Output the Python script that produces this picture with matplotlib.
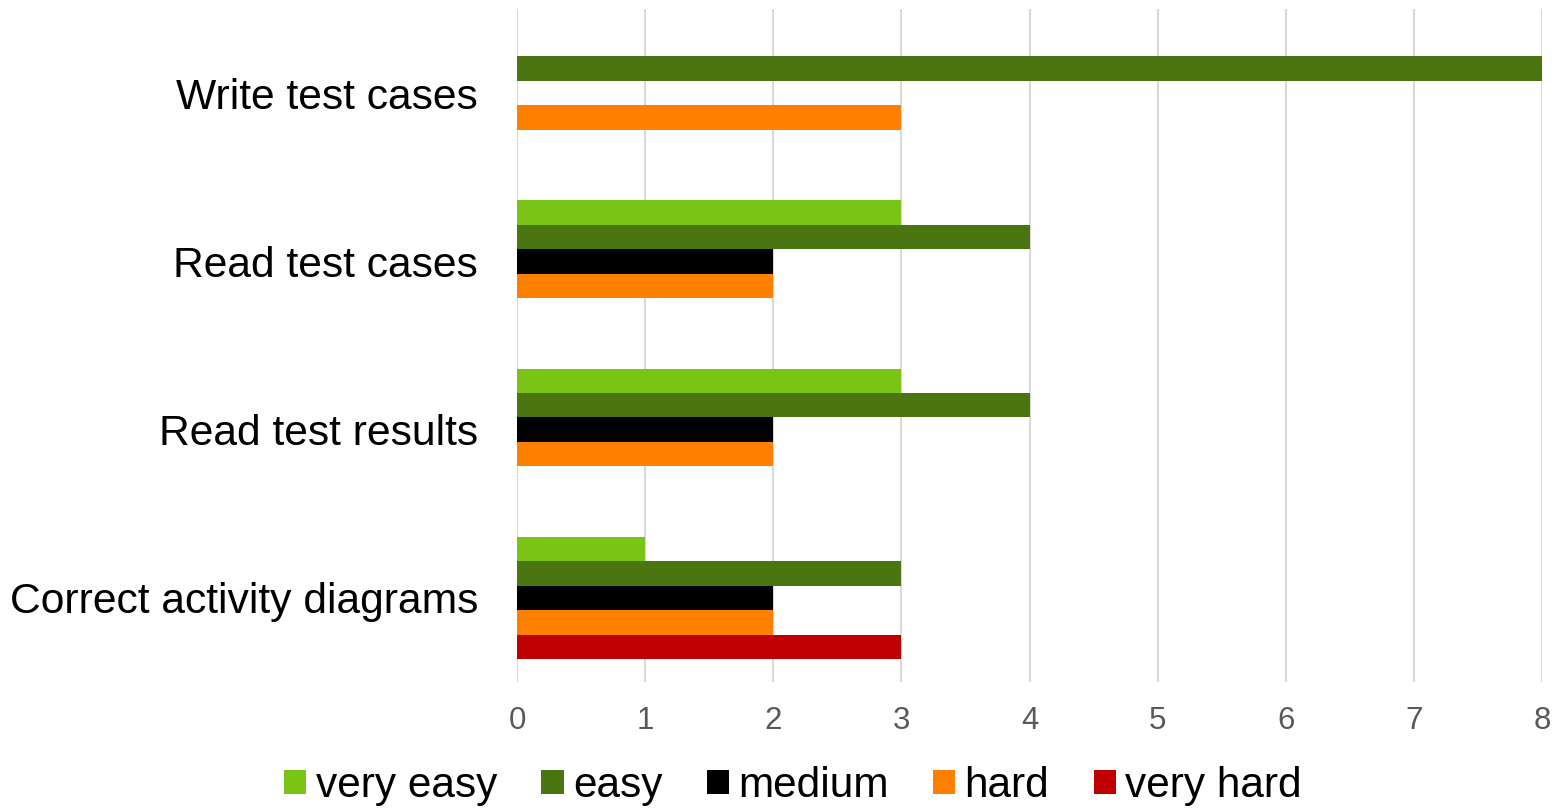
import matplotlib
matplotlib.use("Agg")
import matplotlib.pyplot as plt
import numpy as np

plt.rcParams['font.family'] = ['Liberation Sans', 'DejaVu Sans']

categories = ["Write test cases", "Read test cases", "Read test results", "Correct activity diagrams"]
series_names = ["very easy", "easy", "medium", "hard", "very hard"]
very_easy = [0, 3, 3, 1]
easy = [8, 4, 4, 3]
medium = [0, 2, 2, 2]
hard = [3, 2, 2, 2]
very_hard = [0, 0, 0, 3]
series_values = [very_easy, easy, medium, hard, very_hard]
colors = ["#7AC415", "#4A7510", "#000000", "#FF7F00", "#C00000"]
xticks = [0, 1, 2, 3, 4, 5, 6, 7, 8]

fig = plt.figure(figsize=(15.56, 8.08), dpi=100)
ax = fig.add_axes([517/1556, 1 - 682/808, (1542-517)/1556, (682-9)/808])

y = np.arange(len(categories))
h = 0.1452
for j, (name, vals, c) in enumerate(zip(series_names, series_values, colors)):
    ax.barh(y + (j - 2) * h, vals, height=h, color=c, label=name,
            linewidth=0, zorder=3)

ax.set_ylim(len(categories) - 0.5, -0.5)
ax.set_xlim(0, 8)
ax.set_xticks(xticks)
ax.set_xticklabels([str(t) for t in xticks])
ax.set_yticks(y)
ax.set_yticklabels(categories)
ax.tick_params(axis='y', length=0, pad=28, labelsize=30.7, labelcolor='black')
ax.tick_params(axis='x', length=0, pad=17, labelsize=22.5, labelcolor='#595959')
ax.grid(axis='x', color='#D9D9D9', linewidth=1.5, zorder=0)
for s in ax.spines.values():
    s.set_visible(False)

handles, labels = ax.get_legend_handles_labels()
fig.legend(handles, labels, loc='center', bbox_to_anchor=(793/1556, 1 - 786/808),
           ncol=5, frameon=False, fontsize=30.5, handlelength=0.52, handleheight=0.52,
           handletextpad=0.22, columnspacing=1.05, borderpad=0)

fig.savefig("out.png", dpi=100)
